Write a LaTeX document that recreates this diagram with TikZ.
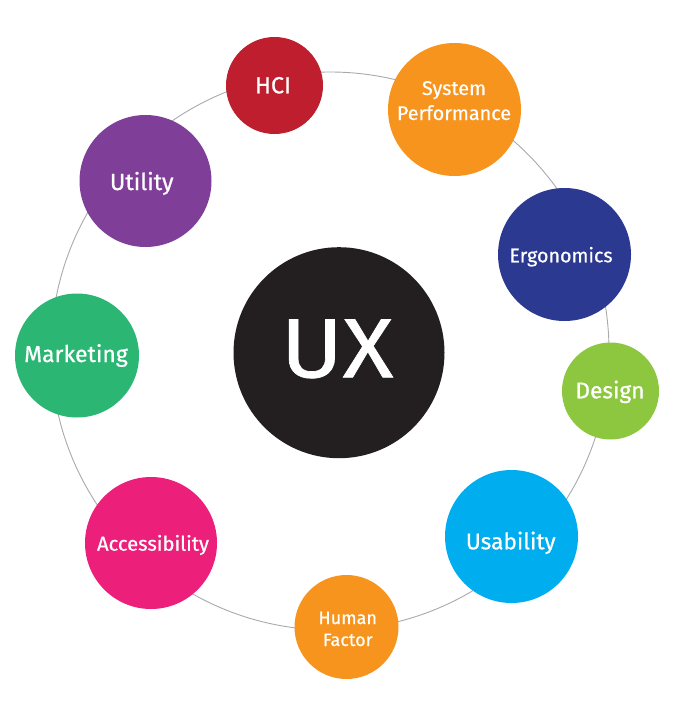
\documentclass[tikz,border=0pt]{standalone}
\usepackage{fontspec}
\setmainfont{Fira Sans}[FakeBold=0.6]
\newfontfamily\uxfont{Fira Sans}[FakeStretch=1.12, FakeBold=0.8]
\definecolor{cHCI}{HTML}{BE1E2D}
\definecolor{cOrange}{HTML}{F7941E}
\definecolor{cNavy}{HTML}{2B3990}
\definecolor{cGreen}{HTML}{8DC63F}
\definecolor{cBlue}{HTML}{00AEEF}
\definecolor{cPink}{HTML}{EC207B}
\definecolor{cMint}{HTML}{2BB673}
\definecolor{cPurple}{HTML}{7F3F98}
\definecolor{cDark}{HTML}{231F20}
\definecolor{cRing}{HTML}{A7A9AC}
\tikzset{
  bub/.style={circle, inner sep=0pt, draw=none},
  lbl/.style={anchor=base, text=white, inner sep=0pt},
  ring/.style={draw=cRing, line width=0.9pt}
}
\begin{document}
\begin{tikzpicture}[x=1pt,y=-1pt]
\useasboundingbox (0,0) rectangle (684,709);
\coordinate (rc) at (330,351);
\draw[ring] (rc) circle[radius=279pt];
% bubbles
\node[bub, fill=cDark,   minimum size=211pt] (ux)   at (339,352.7) {};
\node[bub, fill=cHCI,    minimum size=97pt]  (hci)  at (274.5,85.5) {};
\node[bub, fill=cOrange, minimum size=133pt] (sys)  at (454.5,109.5) {};
\node[bub, fill=cNavy,   minimum size=133pt] (erg)  at (564.5,254.5) {};
\node[bub, fill=cGreen,  minimum size=97pt]  (des)  at (610.5,391) {};
\node[bub, fill=cBlue,   minimum size=133pt] (usa)  at (511.5,536.5) {};
\node[bub, fill=cOrange, minimum size=104pt] (hum)  at (346.5,627) {};
\node[bub, fill=cPink,   minimum size=132pt] (acc)  at (151,543) {};
\node[bub, fill=cMint,   minimum size=124pt] (mkt)  at (77,355.5) {};
\node[bub, fill=cPurple, minimum size=132pt] (uti)  at (145.5,181) {};
% labels
\node[lbl, font=\uxfont\fontsize{84}{84}\selectfont] (uxt) at (337,377.3) {UX};
\node[lbl, font=\fontsize{23.3}{23.3}\selectfont] (hcit) at (273,93.3) {HCI};
\node[lbl, font=\fontsize{19.8}{19.8}\selectfont] (syst1) at (454,95) {System};
\node[lbl, font=\fontsize{19.8}{19.8}\selectfont] (syst2) at (454,120) {Performance};
\node[lbl, font=\fontsize{19.7}{19.7}\selectfont] (ergt) at (561,262.3) {Ergonomics};
\node[lbl, font=\fontsize{22.7}{22.7}\selectfont] (dest) at (610,398.3) {Design};
\node[lbl, font=\fontsize{22.7}{22.7}\selectfont] (usat) at (510.7,549.3) {Usability};
\node[lbl, font=\fontsize{18}{18}\selectfont] (humt1) at (347.7,624) {Human};
\node[lbl, font=\fontsize{18}{18}\selectfont] (humt2) at (347.7,646) {Factor};
\node[lbl, font=\fontsize{20.2}{20.2}\selectfont] (acct) at (153,550.7) {Accessibility};
\node[lbl, font=\fontsize{23}{23}\selectfont] (mktt) at (76,362) {Marketing};
\node[lbl, font=\fontsize{23.3}{23.3}\selectfont] (utit) at (141.7,190) {Utility};
\end{tikzpicture}
\end{document}
